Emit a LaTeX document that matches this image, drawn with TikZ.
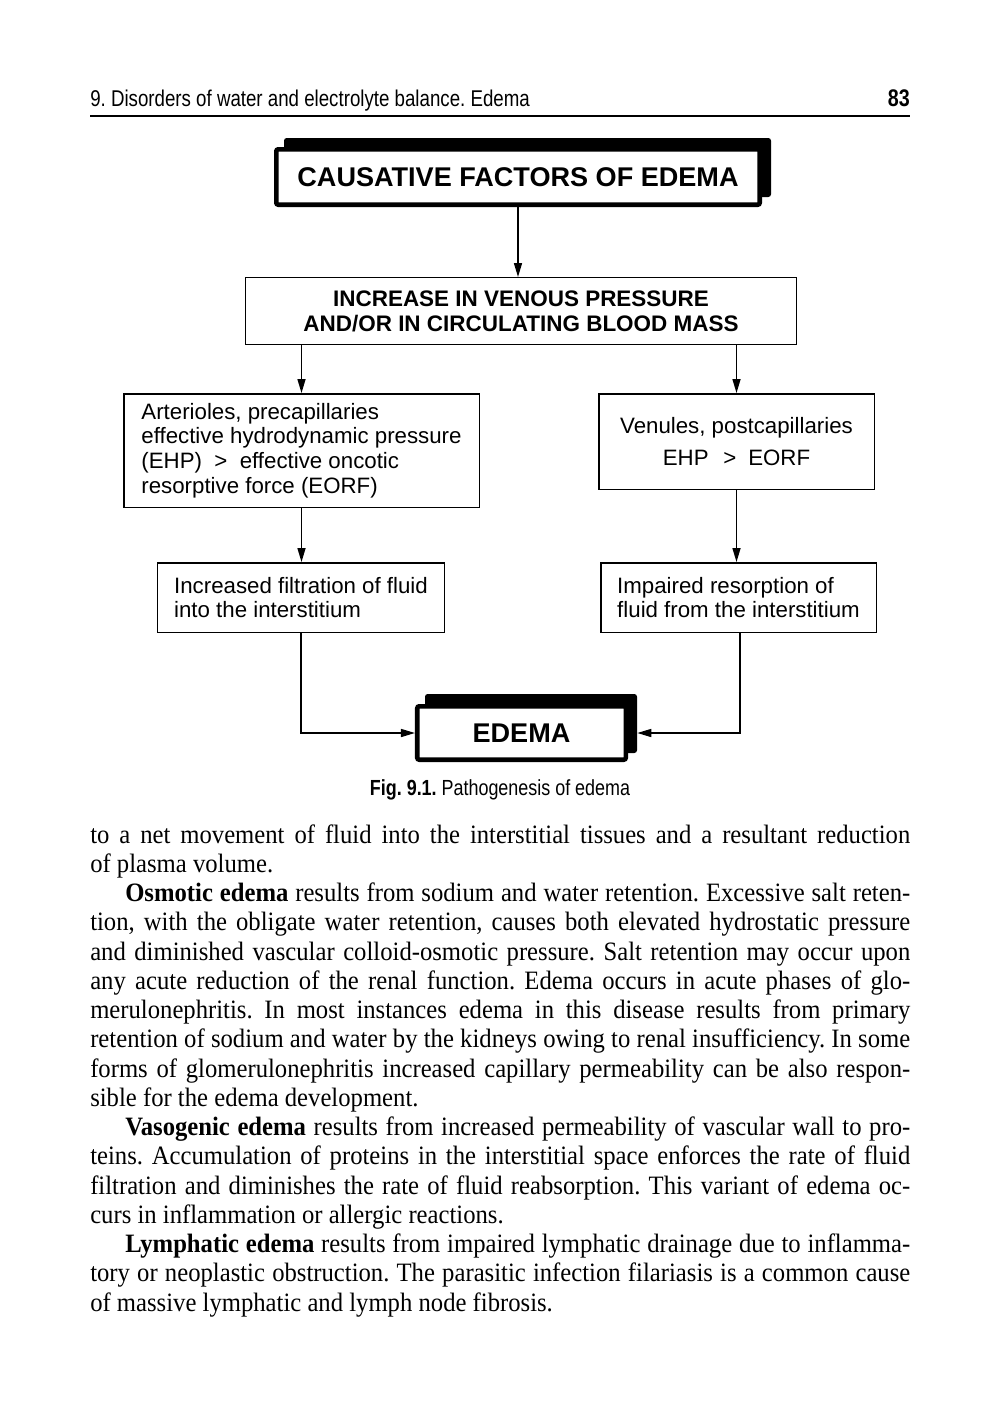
\documentclass[tikz,border=0pt]{standalone}
\usepackage{fontspec}
\setmainfont{Liberation Serif}[FakeStretch=0.93]
\newfontfamily\hdfont{Liberation Sans}[FakeStretch=0.82]
\newfontfamily\bxfont{Liberation Sans}
\usetikzlibrary{arrows.meta}
\frenchspacing
\newcommand\bodyj[1]{\makebox[615pt][s]{#1}\par}
\newcommand\bodyi[1]{\hspace*{26.25pt}\makebox[588.75pt][s]{#1}\par}
\newcommand\bodyl[1]{\makebox[615pt][l]{#1}\par}
\begin{document}
\begin{tikzpicture}[x=0.75pt,y=-0.75pt,
  box/.style={draw, line width=1.1pt, fill=white, inner sep=0pt, align=left,
    font=\bxfont\fontsize{16.7}{18.4}\selectfont},
  bigbox/.style={draw, line width=3.4pt, fill=white, rounded corners=1.5pt, inner sep=0pt,
    font=\bxfont\bfseries\fontsize{20.3}{24}\selectfont},
  shade/.style={fill=black, rounded corners=2pt, inner sep=0pt, draw=none},
  conn/.style={line width=1.1pt, -{Triangle[length=10.5pt,width=6pt]}},
  hd/.style={inner sep=0pt, font=\hdfont\fontsize{17.1}{19}\selectfont}]
\useasboundingbox (0,0) rectangle (1000,1420);
\fill[white] (0,0) rectangle (1000,1420);
% header
\node[hd, anchor=base west] (head) at (90,107) {9. Disorders of water and electrolyte balance. Edema};
\node[hd, anchor=base east, font=\hdfont\bfseries\fontsize{18}{20}\selectfont] (pnum) at (910,107) {83};
\coordinate (ruleL) at (90,116);
\coordinate (ruleR) at (910,116);
\draw[line width=0.8pt] (ruleL) -- (ruleR);
% top box
\node[shade, minimum width=365.25pt, minimum height=44.25pt] (topsh) at (527.5,167.5) {};
\node[bigbox, minimum width=362.6pt, minimum height=41.6pt] (top) at (518,177) {CAUSATIVE FACTORS OF EDEMA};
% box2
\node[box, align=center, minimum width=412.9pt, minimum height=49.9pt,
  font=\bxfont\bfseries\fontsize{16.85}{18.75}\selectfont] (venous) at (521,311)
  {INCREASE IN VENOUS PRESSURE\\AND/OR IN CIRCULATING BLOOD MASS};
% level 3
\node[box, minimum width=266.6pt, minimum height=85.1pt] (arter) at (301.5,450.5)
  {Arterioles, precapillaries\\effective hydrodynamic pressure\\(EHP)~ >~ effective oncotic\\resorptive force (EORF)};
\node[box, align=center, minimum width=206.6pt, minimum height=71.6pt] (venul) at (736.5,441.5)
  {Venules, postcapillaries\\[6pt]EHP\hspace{11pt}>\hspace{9pt}EORF};
% level 4
\node[box, minimum width=214.9pt, minimum height=52.1pt] (filt) at (301,597.5)
  {Increased filtration of fluid\\into the interstitium};
\node[box, minimum width=206.6pt, minimum height=52.1pt] (resorp) at (738.5,597.5)
  {Impaired resorption of\\fluid from the interstitium};
% edema
\node[shade, minimum width=159pt, minimum height=44.25pt] (edsh) at (531,723.5) {};
\node[bigbox, minimum width=156.4pt, minimum height=40.1pt] (edema) at (521.5,733) {EDEMA};
% connectors
\draw[conn] (top.south) -- (top.south |- venous.north);
\draw[conn] (arter.north |- venous.south) -- (arter.north);
\draw[conn] (venul.north |- venous.south) -- (venul.north);
\draw[conn] (arter.south) -- (arter.south |- filt.north);
\draw[conn] (venul.south) -- (venul.south |- resorp.north);
\draw[conn] (filt.south) |- (edema.west);
\draw[conn] ([xshift=1.1pt]resorp.south) |- (edema.east -| edsh.east);
% caption
\node[hd, anchor=base, font=\hdfont\fontsize{16.4}{18}\selectfont] (cap) at (500,795)
  {\textbf{Fig. 9.1.} Pathogenesis of edema};
% body text
\node[inner sep=0pt, anchor=base west] (body) at (90,843) {\parbox[t]{615pt}{%
\fontsize{19.9}{21.94}\selectfont\parindent=0pt\parskip=0pt
\bodyj{to a net movement of fluid into the interstitial tissues and a resultant reduction}
\bodyl{of plasma volume.}
\bodyi{\textbf{Osmotic edema} results from sodium and water retention. Excessive salt reten-}
\bodyj{tion, with the obligate water retention, causes both elevated hydrostatic pressure}
\bodyj{and diminished vascular colloid-osmotic pressure. Salt retention may occur upon}
\bodyj{any acute reduction of the renal function. Edema occurs in acute phases of glo-}
\bodyj{merulonephritis. In most instances edema in this disease results from primary}
\bodyj{retention of sodium and water by the kidneys owing to renal insufficiency. In some}
\bodyj{forms of glomerulonephritis increased capillary permeability can be also respon-}
\bodyl{sible for the edema development.}
\bodyi{\textbf{Vasogenic edema} results from increased permeability of vascular wall to pro-}
\bodyj{teins. Accumulation of proteins in the interstitial space enforces the rate of fluid}
\bodyj{filtration and diminishes the rate of fluid reabsorption. This variant of edema oc-}
\bodyl{curs in inflammation or allergic reactions.}
\bodyi{\textbf{Lymphatic edema} results from impaired lymphatic drainage due to inflamma-}
\bodyj{tory or neoplastic obstruction. The parasitic infection filariasis is a common cause}
\bodyl{of massive lymphatic and lymph node fibrosis.}
}};
\end{tikzpicture}
\end{document}
